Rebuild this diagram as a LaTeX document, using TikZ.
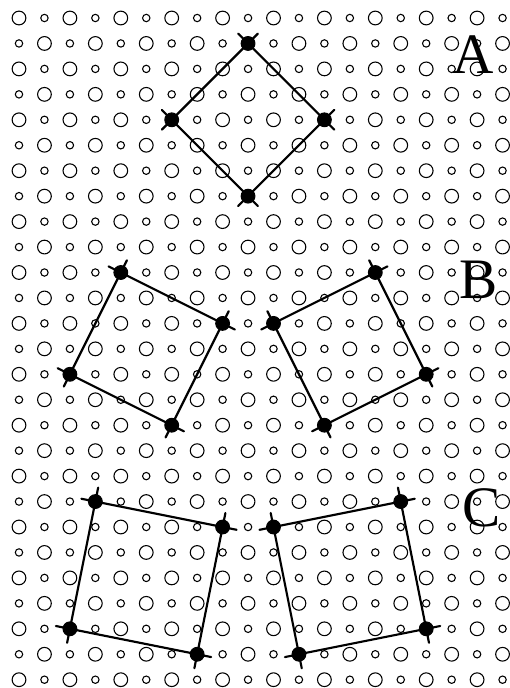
\documentclass[tikz,border=0pt]{standalone}
\usepackage{fontspec}
\setmainfont{Liberation Serif}
\usepackage{tkz-euclide}

\begin{document}
\begin{tikzpicture}
\useasboundingbox (-0.7466,0.7073) rectangle (19.2534,-26.326);
\tkzSetUpLine[line width=2.4pt,color=black]
\tkzSetUpPoint[fill=black]

% lattice of big and small holes
\foreach \i in {0,...,19}{
  \foreach \j in {0,...,26}{
    \pgfmathsetmacro\rad{iseven(\i+\j) ? 0.27 : 0.145}
    \draw[line width=1.2pt] (\i,-\j) circle (\rad);
  }
}

\tkzDefPoints{9/-1/a1,12/-4/a2,9/-7/a3,6/-4/a4}
\tkzDefPoints{4/-10/bl1,8/-12/bl2,6/-16/bl3,2/-14/bl4}
\tkzDefPoints{10/-12/br1,14/-10/br2,16/-14/br3,12/-16/br4}
\tkzDefPoints{3/-19/cl1,8/-20/cl2,7/-25/cl3,2/-24/cl4}
\tkzDefPoints{10/-20/cr1,15/-19/cr2,16/-24/cr3,11/-25/cr4}

\tkzDrawSegments[add=0.13 and 0.13](a1,a2 a2,a3 a3,a4 a4,a1)
\tkzDrawSegments[add=0.12 and 0.12](bl1,bl2 bl2,bl3 bl3,bl4 bl4,bl1)
\tkzDrawSegments[add=0.12 and 0.12](br1,br2 br2,br3 br3,br4 br4,br1)
\tkzDrawSegments[add=0.11 and 0.11](cl1,cl2 cl2,cl3 cl3,cl4 cl4,cl1)
\tkzDrawSegments[add=0.11 and 0.11](cr1,cr2 cr2,cr3 cr3,cr4 cr4,cr1)

\tkzDrawPoints[size=15](a1,a2,a3,a4,bl1,bl2,bl3,bl4,br1,br2,br3,br4)
\tkzDrawPoints[size=15](cl1,cl2,cl3,cl4,cr1,cr2,cr3,cr4)

\node[font=\fontsize{64}{64}\selectfont] (labA) at (17.85,-1.45) {A};
\node[font=\fontsize{64}{64}\selectfont] (labB) at (18.05,-10.27) {B};
\node[font=\fontsize{64}{64}\selectfont] (labC) at (18.19,-19.25) {C};

\end{tikzpicture}
\end{document}
